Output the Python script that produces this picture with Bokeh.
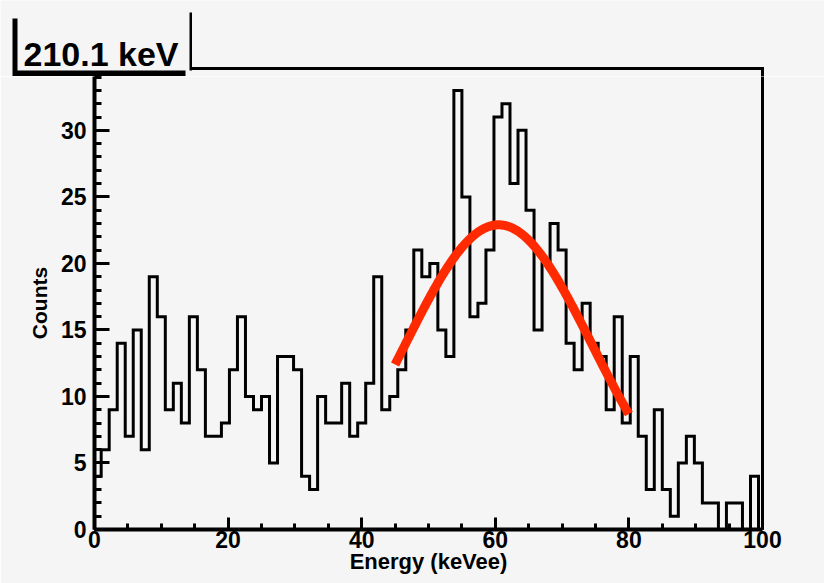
import numpy as np
from bokeh.plotting import figure
from bokeh.models import Range1d, FixedTicker, Label, LinearAxis
from bokeh.embed import file_html
from bokeh.resources import INLINE

# Energy histogram: 83 bins of 1.2 keVee, first bin starting at -0.2 keVee
BIN_START = -0.2
BIN_WIDTH = 1.2
counts = [4, 6, 9, 14, 7, 15, 6, 19, 16, 9,
          11, 8, 16, 12, 7, 7, 8, 12, 16, 10,
          9, 10, 5, 13, 13, 12, 4, 3, 10, 8,
          8, 11, 7, 8, 11, 19, 9, 10, 12, 15,
          21, 19, 20, 15, 13, 33, 25, 16, 17, 21,
          31, 32, 26, 30, 24, 15, 20, 23, 21, 14,
          12, 17, 14, 13, 9, 16, 8, 13, 7, 3,
          9, 3, 1, 5, 7, 5, 2, 2, 0, 2,
          2, 0, 4]

# Gaussian fit over 45-80 keVee
FIT_AMPLITUDE = 22.9
FIT_MEAN = 60.5
FIT_SIGMA = 14.0
FIT_LOW, FIT_HIGH = 45.0, 80.0

x_ticks = [0, 20, 40, 60, 80, 100]
x_minor = list(range(0, 101, 5))
y_ticks = [0, 5, 10, 15, 20, 25, 30]
y_minor = list(range(0, 35))

TITLE = "210.1 keV"
FONT = "Liberation Sans"
BG = "#f5f5f5"

# page geometry (pixels)
W, H = 824, 583
HEADER_H = 76          # strip holding the title pave and the frame's top edge
FRAME_TOP = 68         # frame top edge on the page
FRAME_LEFT, FRAME_RIGHT = 94, 762
BOTTOM = 54

y_top = 1.05 * max(counts)
frame_h_total = H - BOTTOM - FRAME_TOP
frame_h_main = H - BOTTOM - HEADER_H

# ---- main histogram panel ----
p = figure(width=W, height=H - HEADER_H, output_backend="svg", toolbar_location=None,
           x_range=Range1d(0, 100),
           y_range=Range1d(0, y_top * frame_h_main / frame_h_total),
           min_border_left=FRAME_LEFT, min_border_right=W - FRAME_RIGHT,
           min_border_top=0, min_border_bottom=BOTTOM,
           background_fill_color=BG, border_fill_color=BG,
           outline_line_color=None)
p.grid.visible = False

edges = BIN_START + BIN_WIDTH * np.arange(len(counts) + 1)
hx = np.repeat(edges, 2)
hy = np.concatenate([[0], np.repeat(counts, 2), [0]])
p.line(hx, hy, line_color="black", line_width=3, line_join="miter")

fx = np.linspace(FIT_LOW, FIT_HIGH, 200)
fy = FIT_AMPLITUDE * np.exp(-0.5 * ((fx - FIT_MEAN) / FIT_SIGMA) ** 2)
p.line(fx, fy, line_color="#ff2a00", line_width=9, line_cap="butt")


def style_axis(ax, ticks, minor, tick_in, minor_in, standoff, label, label_size,
               label_standoff):
    ax.ticker = FixedTicker(ticks=ticks, minor_ticks=minor)
    ax.major_tick_in = tick_in
    ax.major_tick_out = 0
    ax.minor_tick_in = minor_in
    ax.minor_tick_out = 0
    ax.major_tick_line_width = 3
    ax.minor_tick_line_width = 3
    ax.axis_line_width = 4
    ax.major_label_text_font = FONT
    ax.major_label_text_font_style = "bold"
    ax.major_label_text_font_size = "23px"
    ax.major_label_text_color = "black"
    ax.major_label_standoff = standoff
    ax.axis_label = label
    ax.axis_label_text_font = FONT
    ax.axis_label_text_font_style = "bold"
    ax.axis_label_text_font_size = label_size
    ax.axis_label_text_color = "black"
    ax.axis_label_standoff = label_standoff


style_axis(p.xaxis[0], x_ticks, x_minor, 12, 6, 1, "Energy (keVee)", "22px", -2)
style_axis(p.yaxis[0], y_ticks, y_minor, 15, 7, 8, "Counts", "21px", 7)

# right edge of the frame
right_edge = LinearAxis(ticker=FixedTicker(ticks=[]), axis_line_width=3,
                        major_tick_in=0, major_tick_out=0,
                        minor_tick_in=0, minor_tick_out=0,
                        major_label_text_font_size="0px")
p.add_layout(right_edge, "right")

# ---- header strip: frame top edge and the title pave with its shadow ----
t = figure(width=W, height=HEADER_H, output_backend="svg", toolbar_location=None,
           x_range=Range1d(0, W), y_range=Range1d(HEADER_H, 0),
           x_axis_type=None, y_axis_type=None,
           min_border_left=0, min_border_right=0, min_border_top=0, min_border_bottom=0,
           background_fill_color=BG, border_fill_color=BG, outline_line_color=None)
t.grid.visible = False

# frame top edge and the stubs of the side edges above the main panel
t.quad(left=[FRAME_LEFT - 2, FRAME_LEFT - 2, FRAME_RIGHT - 1.5],
       right=[FRAME_RIGHT + 1.5, FRAME_LEFT + 2, FRAME_RIGHT + 1.5],
       top=[FRAME_TOP - 1.5, FRAME_TOP - 1.5, FRAME_TOP - 1.5],
       bottom=[FRAME_TOP + 1.5, HEADER_H, HEADER_H],
       fill_color="black", line_color=None)

# pave: shadow, body, right border
t.quad(left=[12], right=[185], top=[18], bottom=[HEADER_H],
       fill_color="black", line_color=None)
t.quad(left=[17], right=[191], top=[12], bottom=[70],
       fill_color=BG, line_color=None)
t.quad(left=[189], right=[191.5], top=[12], bottom=[70],
       fill_color="black", line_color=None)
t.add_layout(Label(x=23, y=53, text=TITLE, text_font=FONT, text_font_style="bold",
                   text_font_size="34px", text_color="black",
                   text_baseline="alphabetic"))

open("out.html", "w").write(file_html([t, p], INLINE))
